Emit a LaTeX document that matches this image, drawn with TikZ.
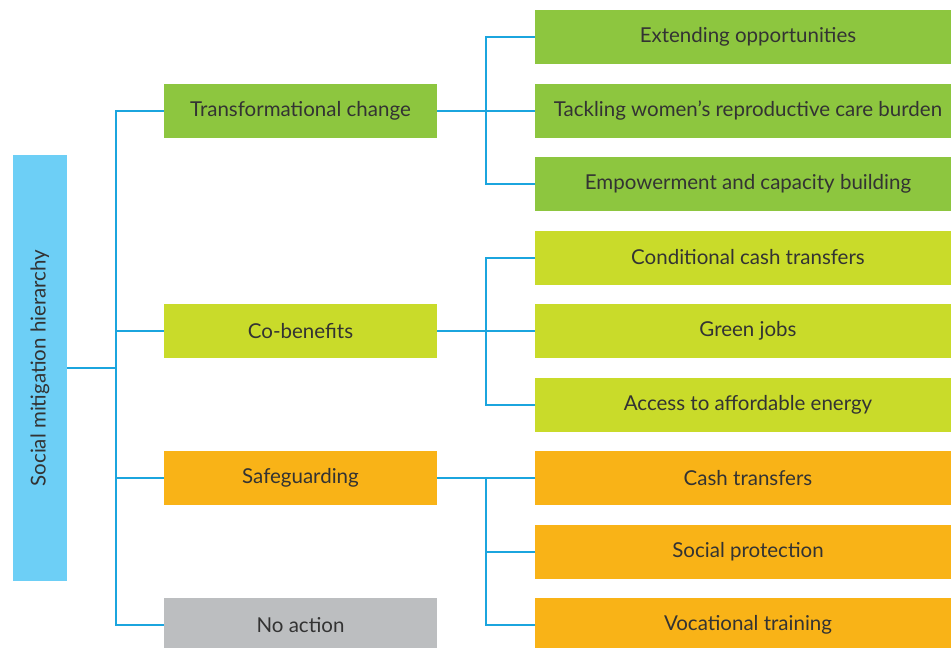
\documentclass[tikz,border=0pt]{standalone}
\usepackage{fontspec}
\setmainfont{Lato}
\usepackage{tikz}

\definecolor{rootblue}{HTML}{6DCFF6}
\definecolor{linkblue}{HTML}{1BA5DE}
\definecolor{tcgreen}{HTML}{8DC63F}
\definecolor{cblime}{HTML}{C9DB2A}
\definecolor{sgorange}{HTML}{F9B317}
\definecolor{nagray}{HTML}{BCBEC0}
\definecolor{txt}{HTML}{333333}

\begin{document}
\begin{tikzpicture}[
            x = 1pt, y = -1pt, % pixel grid, y downwards
            link/.style = {draw = linkblue, line width = 2pt},
            every node/.style = {text = txt, font = \fontsize{20.5}{24}\selectfont}
        ]

        \tikzstyle{level one}=[
            minimum width = 273pt,
            minimum height = 54pt,
            inner sep = 0pt
        ]
        \tikzstyle{level two}=[
            minimum width = 426pt,
            minimum height = 54pt,
            inner sep = 0pt
        ]

        \useasboundingbox[fill = white] (0,0) rectangle (951,648);

        % root
        \node[fill = rootblue, minimum width = 54pt, minimum height = 426pt,
              inner sep = 0pt] (root) at (40,368) {};
        \node[rotate = 90] (rootlabel) at (root.center) {Social mitigation hierarchy};

        % first level
        \node[level one, fill = tcgreen] (tc) at (300.5,111) {Transformational change};
        \node[level one, fill = cblime] (cb) at (300.5,331) {Co-benefits};
        \node[level one, fill = sgorange] (sg) at (300.5,478) {Safeguarding};
        \node[level one, fill = nagray] (na) at (300.5,625) {No action};

        % second level
        \node[level two, fill = tcgreen] (ext) at (748,37) {Extending opportunities};
        \node[level two, fill = tcgreen] (tack) at (748,111) {Tackling women’s reproductive care burden};
        \node[level two, fill = tcgreen] (emp) at (748,184) {Empowerment and capacity building};
        \node[level two, fill = cblime] (cct) at (748,257.5) {Conditional cash transfers};
        \node[level two, fill = cblime] (gj) at (748,331) {Green jobs};
        \node[level two, fill = cblime] (ace) at (748,404.5) {Access to affordable energy};
        \node[level two, fill = sgorange] (cash) at (748,478) {Cash transfers};
        \node[level two, fill = sgorange] (sp) at (748,551.5) {Social protection};
        \node[level two, fill = sgorange] (vt) at (748,625) {Vocational training};

        % junctions
        \coordinate (j0) at (116,368);
        \coordinate (j1) at (486,111);
        \coordinate (j2) at (486,331);
        \coordinate (j3) at (486,478);

        \path[link] (root.east) -- (j0);
        \path[link] (j0) |- (tc.west);
        \path[link] (j0) |- (cb.west);
        \path[link] (j0) |- (sg.west);
        \path[link] (j0) |- (na.west);

        \path[link] (tc.east) -- (j1);
        \path[link] (j1) |- (ext.west);
        \path[link] (j1) -- (tack.west);
        \path[link] (j1) |- (emp.west);

        \path[link] (cb.east) -- (j2);
        \path[link] (j2) |- (cct.west);
        \path[link] (j2) -- (gj.west);
        \path[link] (j2) |- (ace.west);

        \path[link] (sg.east) -- (j3);
        \path[link] (j3) -- (cash.west);
        \path[link] (j3) |- (sp.west);
        \path[link] (j3) |- (vt.west);

    \end{tikzpicture}
\end{document}
